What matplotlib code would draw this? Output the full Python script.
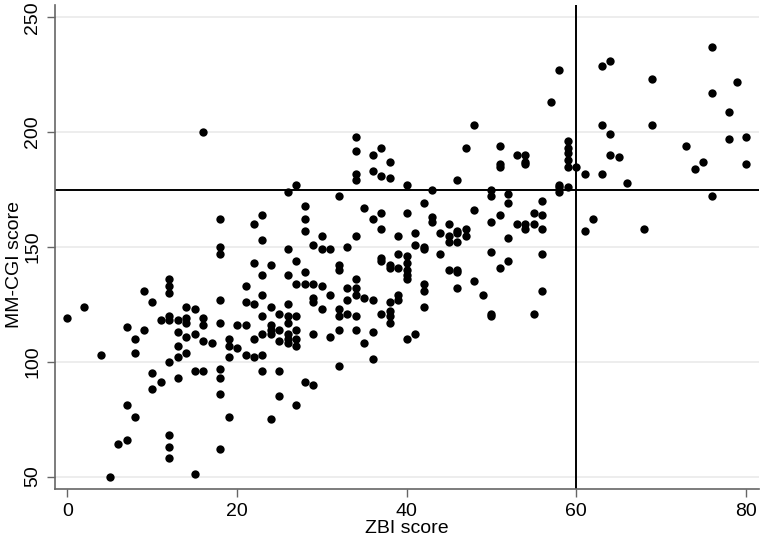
import matplotlib
matplotlib.use("Agg")
import matplotlib.pyplot as plt

plt.rcParams['font.family'] = ['Liberation Sans', 'DejaVu Sans']

# ZBI score -> list of MM-CGI scores at that ZBI value
zbi_groups = [0, 2, 4, 5, 6, 7, 8, 9, 10, 11, 12, 13, 14, 15, 16, 17, 18, 19, 20,
              21, 22, 23, 24, 25, 26, 27, 28, 29, 30, 31, 32, 33, 34, 35, 36, 37,
              38, 39, 40, 41, 42, 43, 44, 45, 46, 47, 48, 49, 50, 51, 52, 53, 54,
              55, 56, 57, 58, 59, 60, 61, 62, 63, 64, 65, 66, 68, 69, 73, 74, 75,
              76, 78, 79, 80]
cgi_groups = [
    [119], [124], [103], [50], [64], [66, 81, 115], [76, 104, 110], [131, 114],
    [126, 95, 88], [118, 91], [136, 133, 130, 120, 118, 100, 68, 63, 58],
    [118, 113, 107, 102, 93], [124, 119, 117, 111, 104], [123, 112, 96, 51],
    [200, 119, 116, 109, 96], [108], [162, 150, 147, 127, 117, 97, 93, 86, 62],
    [110, 107, 102, 76], [116, 106], [133, 126, 116, 103],
    [160, 143, 125, 110, 102], [164, 153, 138, 129, 120, 112, 103, 96],
    [142, 124, 116, 114, 112, 75], [121, 114, 109, 96, 85],
    [174, 149, 138, 125, 120, 117, 112, 110, 108],
    [177, 144, 134, 120, 114, 110, 107, 81], [168, 162, 157, 139, 134, 91],
    [151, 134, 128, 126, 112, 90], [155, 149, 133, 123], [149, 129, 111],
    [172, 142, 140, 123, 120, 114, 98], [150, 132, 127, 121],
    [198, 192, 182, 179, 155, 136, 132, 129, 120, 114], [167, 128, 108],
    [190, 183, 162, 127, 113, 101], [193, 181, 165, 158, 145, 144, 121],
    [187, 180, 142, 141, 126, 122, 120, 117], [155, 147, 141, 129, 127],
    [177, 165, 146, 143, 140, 138, 136, 110], [156, 151, 112],
    [169, 150, 149, 134, 131, 124], [175, 163, 161], [156, 147],
    [160, 155, 152, 140], [179, 157, 156, 152, 140, 139, 132], [193, 158, 155],
    [203, 166, 135], [129], [175, 172, 161, 148, 121, 120],
    [194, 186, 185, 164, 141], [173, 169, 154, 144], [190, 160],
    [190, 187, 186, 160, 158], [165, 160, 121], [170, 164, 158, 147, 131],
    [213], [227, 177, 176, 174], [196, 193, 191, 188, 185, 176], [185],
    [182, 157], [162], [229, 203, 182], [231, 199, 190], [189], [178], [158],
    [223, 203], [194], [184], [187], [237, 217, 172], [209, 197], [222],
    [198, 186],
]

ref_x = 60
ref_y = 175
x_ticks = [0, 20, 40, 60, 80]
y_ticks = [50, 100, 150, 200, 250]

xs, ys = [], []
for xv, lst in zip(zbi_groups, cgi_groups):
    for yv in lst:
        xs.append(xv)
        ys.append(yv)

fig = plt.figure(figsize=(7.6, 5.42), dpi=100)
ax = fig.add_axes([0.0724, 0.0978, 0.9266, 0.893])

for yt in y_ticks:
    ax.axhline(yt, color='#eaeaea', lw=1.2, zorder=0)

ax.scatter(xs, ys, s=36, color='black', zorder=3, linewidths=0)
ax.axvline(ref_x, color='black', lw=1.4, zorder=2)
ax.axhline(ref_y, color='black', lw=1.4, zorder=2)

ax.set_xlim(-1.47, 81.6)
ax.set_ylim(44.6, 255.4)
ax.set_xticks(x_ticks)
ax.set_yticks(y_ticks)
ax.set_yticklabels([str(v) for v in y_ticks], rotation=90, va='center')
ax.tick_params(axis='both', labelsize=14, length=6, width=1.0, color='#666666',
               direction='out', pad=4)

for side in ['top', 'right']:
    ax.spines[side].set_visible(False)
for side in ['left', 'bottom']:
    ax.spines[side].set_color('#666666')
    ax.spines[side].set_linewidth(1.2)

ax.set_xlabel('ZBI score', fontsize=14, labelpad=0)
ax.set_ylabel('MM-CGI score', fontsize=14)
ax.yaxis.set_label_coords(-0.046, 0.463)

fig.savefig('out.png', dpi=100)
